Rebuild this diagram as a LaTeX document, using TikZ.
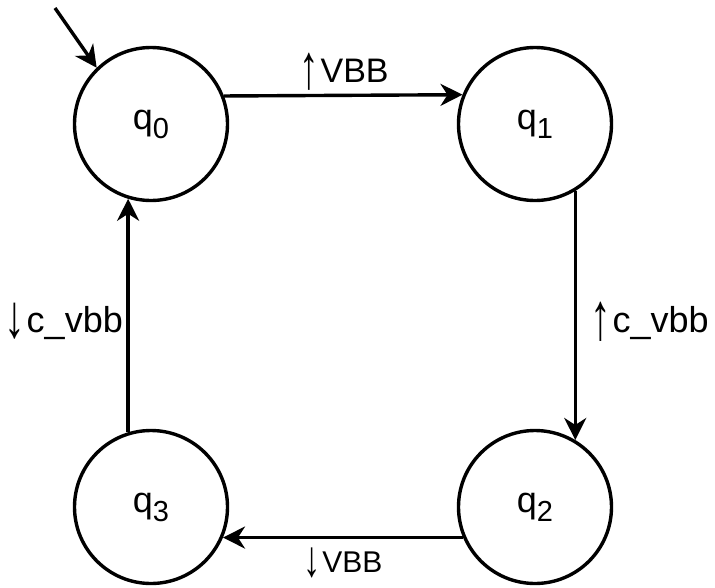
\documentclass[tikz,border=0pt]{standalone}
\usepackage{fontspec}
\setmainfont{Liberation Sans}
\usetikzlibrary{arrows.meta}
\tikzset{
  state/.style={circle,draw,line width=3.4pt,minimum size=153pt,inner sep=0pt,font=\fontsize{36}{36}\selectfont},
  edge/.style={line width=3.4pt,-{Stealth[length=22pt,width=22pt,inset=7pt]}},
  lbl/.style={inner sep=0pt}
}
\newcommand{\qsub}[1]{q\raisebox{-9pt}{\fontsize{29}{29}\selectfont #1}}
\newcommand{\uparr}{\raisebox{-0.2em}{\scalebox{1.15}[1.85]{↑}}\hspace{0.05em}}
\newcommand{\dnarr}{\smash{\raisebox{-0.14em}{\scalebox{1.15}[1.7]{↓}}}\hspace{0.05em}}
\begin{document}
\begin{tikzpicture}[x=1pt,y=-1pt]
\useasboundingbox (0,0) rectangle (715,587);
\node[state] (q0) at (151,124) {\qsub{0}};
\node[state] (q1) at (535,124) {\qsub{1}};
\node[state] (q2) at (535,507) {\qsub{2}};
\node[state] (q3) at (151,507) {\qsub{3}};
\coordinate (init) at (55,8);
\draw[edge] (init) -- (q0.134.5);
\draw[edge] (q0.21.8) -- (q1.158.2);
\draw[edge] (q1.-59.1) -- (q2.59.1);
\draw[edge] (q2.203.4) -- (q3.-23.4);
\draw[edge] (q3.107.1) -- (q0.-107.1);
\node[lbl,anchor=base,font=\fontsize{34}{34}\selectfont] (l01) at (344,82) {\uparr VBB};
\node[lbl,anchor=base west,font=\fontsize{36}{36}\selectfont] (l12) at (590,332) {\uparr c\_vbb};
\node[lbl,anchor=base,font=\fontsize{30}{30}\selectfont] (l23) at (343,572) {\dnarr VBB};
\node[lbl,anchor=base east,font=\fontsize{36}{36}\selectfont] (l30) at (123,332) {\dnarr c\_vbb};
\end{tikzpicture}
\end{document}
